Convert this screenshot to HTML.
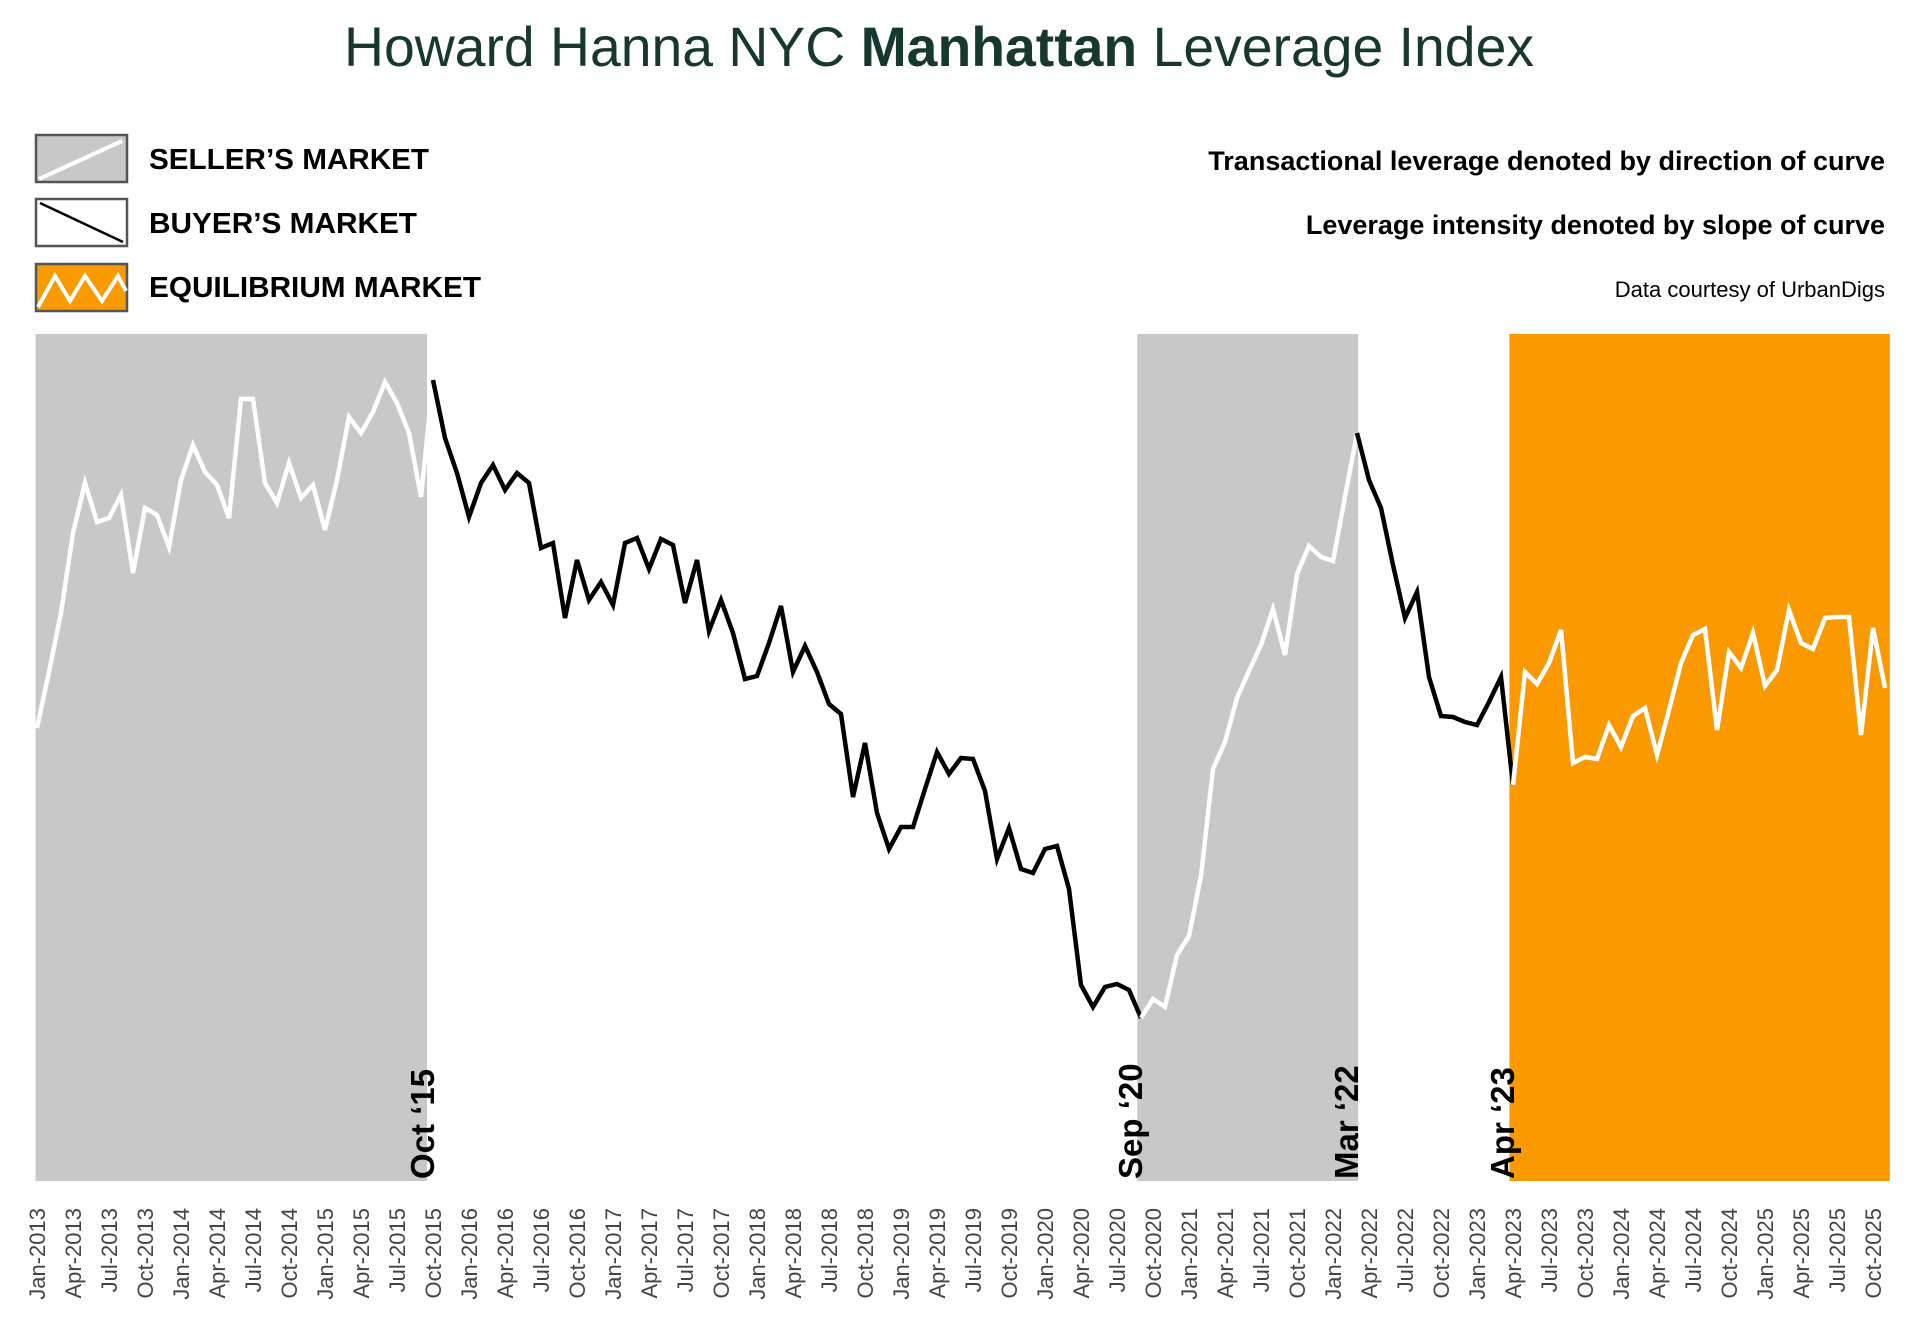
<!DOCTYPE html>
<html><head><meta charset="utf-8"><style>
html,body{margin:0;padding:0;background:#fff;}
svg{display:block;font-family:"Liberation Sans",Arial,sans-serif;}
</style></head><body>
<svg id="chart" width="1920" height="1322" viewBox="0 0 1920 1322" xmlns="http://www.w3.org/2000/svg">
<text x="344" y="66" font-size="56" fill="#17382f" textLength="1190" lengthAdjust="spacingAndGlyphs">Howard Hanna NYC <tspan font-weight="bold">Manhattan</tspan> Leverage Index</text>
<g>
<g>
<rect x="36" y="135" width="91" height="47" fill="#c8c8c8" stroke="#555" stroke-width="2.5"/>
<line x1="39" y1="179" x2="122" y2="141" stroke="#fff" stroke-width="4"/>
<text x="149" y="169" font-size="29" font-weight="bold" textLength="280" lengthAdjust="spacingAndGlyphs">SELLER’S MARKET</text>
</g>
<g>
<rect x="36" y="199" width="91" height="47" fill="#fff" stroke="#555" stroke-width="2.5"/>
<line x1="40" y1="203" x2="123" y2="242" stroke="#000" stroke-width="2.5"/>
<text x="149" y="233" font-size="29" font-weight="bold" textLength="268" lengthAdjust="spacingAndGlyphs">BUYER’S MARKET</text>
</g>
<g>
<rect x="36" y="264" width="91" height="47" fill="#f99b00" stroke="#555" stroke-width="2.5"/>
<polyline points="38,307 55,276 70,301 85,276 102,301 118,276 126,291" fill="none" stroke="#fff" stroke-width="4"/>
<text x="149" y="297" font-size="29" font-weight="bold" textLength="332" lengthAdjust="spacingAndGlyphs">EQUILIBRIUM MARKET</text>
</g>
</g>
<text x="1885" y="170" font-size="27" font-weight="bold" text-anchor="end">Transactional leverage denoted by direction of curve</text>
<text x="1885" y="234" font-size="27" font-weight="bold" text-anchor="end">Leverage intensity denoted by slope of curve</text>
<text x="1885" y="297" font-size="22" text-anchor="end">Data courtesy of UrbanDigs</text>
<g id="bands"></g>
<g id="lines"></g>
<g id="annotations"></g>
<g id="xaxis"></g>
</svg>
<script>
const values = [37.2,42.8,48.7,56.7,61.7,57.8,58.2,60.5,52.7,59.2,58.5,55.3,62.0,65.5,62.8,61.5,58.2,70.1,70.1,61.7,59.7,63.7,60.2,61.5,57.0,62.0,68.3,66.7,68.8,71.8,69.7,66.7,60.3,72.0,
66.2,62.7,58.3,61.7,63.5,61.0,62.7,61.7,55.2,55.7,48.2,54.0,50.0,51.8,49.5,55.7,56.2,
53.1,56.1,55.5,49.7,54.0,46.9,50.0,46.7,42.1,42.4,45.7,49.4,42.8,45.4,42.8,39.6,38.6,30.3,35.7,28.7,
25.1,27.3,27.3,31.1,34.8,32.6,34.2,34.1,30.9,24.1,27.2,23.1,22.7,25.1,25.4,21.1,11.5,9.3,11.3,11.6,11.0,8.2,
10.1,9.3,14.5,16.4,22.4,33.1,35.8,40.2,42.9,45.5,49.1,44.5,52.6,55.4,54.3,53.9,60.3,66.7,
62.0,59.2,53.5,48.2,50.8,42.3,38.4,38.3,37.8,37.5,39.8,42.3,
31.5,42.8,41.6,43.7,47.0,33.7,34.3,34.1,37.5,35.3,38.4,39.2,34.5,39.0,43.7,46.5,47.1,37.0,44.8,43.2,46.7,41.4,43.0,49.0,45.7,45.1,48.2,48.3,48.3,36.5,47.2,41.2];
const monthNames = ["Jan","Feb","Mar","Apr","May","Jun","Jul","Aug","Sep","Oct","Nov","Dec"];
const startYear = 2013;
const phaseStarts = [0,33,92,110,123];
const phaseEnds = [33,92,110,123,154];
const phaseTypes = ["seller","buyer","seller","buyer","equilibrium"];
const bandStarts = [-0.12,91.7,122.7];
const bandEnds = [32.5,110.1,154.4];
const bandTypes = ["seller","seller","equilibrium"];
const markerIdx = [33,92,110,123];
const markerLabels = ["Oct ‘15","Sep ‘20","Mar ‘22","Apr ‘23"];

const NS="http://www.w3.org/2000/svg";
const X0=37, DX=12.0, PLOT_TOP=334, PLOT_BOTTOM=1181;
function xs(i){return X0+i*DX;}
function ys(v){return 1100-v*10;}
function mk(tag,attrs,parent){const e=document.createElementNS(NS,tag);for(const k in attrs)e.setAttribute(k,attrs[k]);parent.appendChild(e);return e;}

const bands=document.getElementById('bands');
for(let b=0;b<bandStarts.length;b++){
  const r=mk('rect',{x:xs(bandStarts[b]),y:PLOT_TOP,width:xs(bandEnds[b])-xs(bandStarts[b]),height:PLOT_BOTTOM-PLOT_TOP,fill:bandTypes[b]==="equilibrium"?"#fa9a00":"#c8c8c8"},bands);
  
  
}
const lines=document.getElementById('lines');
for(let p=0;p<phaseStarts.length;p++){
  let pts=[];
  for(let i=phaseStarts[p];i<=phaseEnds[p]&&i<values.length;i++)pts.push(xs(i).toFixed(1)+","+ys(values[i]).toFixed(1));
  const pl=mk('polyline',{points:pts.join(" "),fill:"none",stroke:phaseTypes[p]==="buyer"?"#000":"#fff","stroke-width":4.5,"stroke-linejoin":"miter"},lines);
  
  
}
const ann=document.getElementById('annotations');
for(let m=0;m<markerIdx.length;m++){
  const cx=xs(markerIdx[m])-10;
  const t=mk('text',{x:0,y:0,transform:"translate("+(cx+11)+","+(PLOT_BOTTOM-2)+") rotate(-90)","font-size":33,"font-weight":"bold",fill:"#000"},ann);
  t.textContent=markerLabels[m];
  
  
}
const xa=document.getElementById('xaxis');
for(let i=0;i<values.length;i+=3){
  const label=monthNames[i%12]+"-"+(startYear+Math.floor(i/12));
  const t=mk('text',{x:0,y:0,transform:"translate("+(xs(i)+8)+",1208) rotate(-90)","font-size":22,fill:"#444","text-anchor":"end"},xa);
  t.textContent=label;
  
  
}
</script>
</body></html>
